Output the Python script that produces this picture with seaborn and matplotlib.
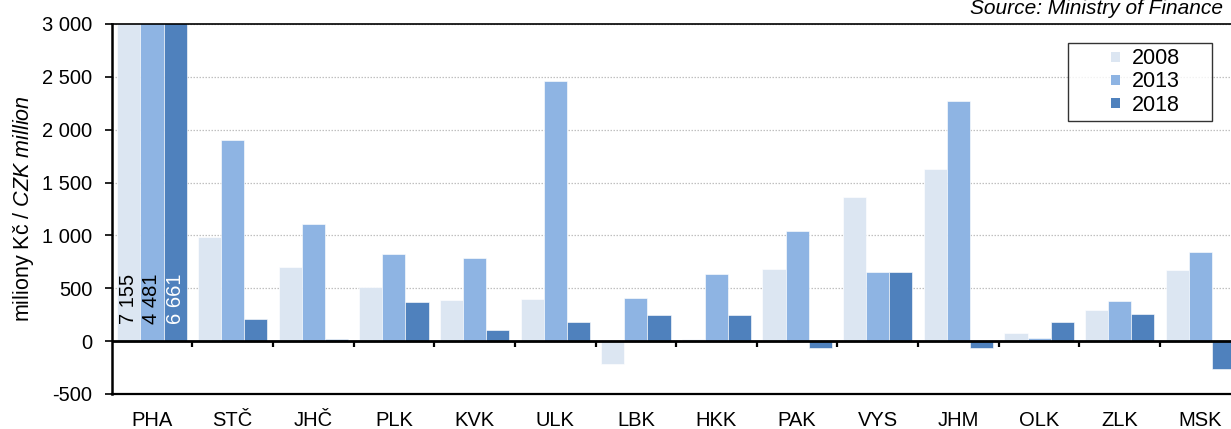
import matplotlib
matplotlib.use("Agg")
import matplotlib.pyplot as plt
import numpy as np
import pandas as pd
import seaborn as sns
from matplotlib.patches import Rectangle
from matplotlib.legend_handler import HandlerPatch
from matplotlib.ticker import FuncFormatter

regions = ["PHA", "STČ", "JHČ", "PLK", "KVK", "ULK", "LBK",
           "HKK", "PAK", "VYS", "JHM", "OLK", "ZLK", "MSK"]
years = ["2008", "2013", "2018"]
v2008 = [7155, 982, 701, 511, 386, 398, -220, 20, 685, 1361, 1632, 79, 294, 672]
v2013 = [4481, 1900, 1105, 824, 783, 2456, 407, 631, 1045, 657, 2273, 32, 379, 843]
v2018 = [6661, 208, 22, 366, 107, 180, 246, 243, -65, 654, -62, 177, 253, -265]
colors = ["#dce6f2", "#8eb4e3", "#4f81bd"]

df = pd.DataFrame({
    "region": regions * 3,
    "year": np.repeat(years, len(regions)),
    "value": v2008 + v2013 + v2018,
})

sns.set_theme(style="white")
plt.rcParams["font.family"] = ["Liberation Sans", "DejaVu Sans"]
plt.rcParams["axes.unicode_minus"] = False
plt.rcParams["mathtext.fontset"] = "custom"
plt.rcParams["mathtext.it"] = "Liberation Sans:italic"
plt.rcParams["mathtext.rm"] = "Liberation Sans"
for key in ["text.color", "axes.labelcolor", "xtick.color", "ytick.color"]:
    plt.rcParams[key] = "black"
fs = 14.5
fs_big = 15.5

fig = plt.figure(figsize=(12.31, 4.29), dpi=100)
ax = fig.add_axes([0.0907, 0.0816, 0.9093, 0.8625])

sns.barplot(data=df, x="region", y="value", hue="year", palette=colors,
            width=0.86, saturation=1, ax=ax,
            edgecolor=(1, 1, 1, 0.7), linewidth=0.6)

ax.set_ylim(-500, 3000)
ax.set_xlim(-0.5, 13.38)
ax.set_yticks(np.arange(-500, 3001, 500))
ax.yaxis.set_major_formatter(FuncFormatter(lambda v, p: f"{v:,.0f}".replace(",", " ")))
ax.tick_params(axis="y", left=True, length=5, width=1.2, labelsize=fs, pad=9)
ax.tick_params(axis="x", bottom=False, length=0, labelsize=fs, pad=12)
ax.set_xlabel("")
ax.set_ylabel(r"miliony Kč / $\mathit{CZK\ million}$", fontsize=fs_big, labelpad=4)

ax.yaxis.grid(True, linestyle=(0, (1.2, 1.2)), color="#c0c0c0", linewidth=0.9)
ax.set_axisbelow(True)
ax.axhline(0, color="black", linewidth=2, zorder=5)

for side in ["left", "top", "bottom"]:
    ax.spines[side].set_visible(True)
    ax.spines[side].set_color("black")
ax.spines["left"].set_linewidth(1.8)
ax.spines["bottom"].set_linewidth(1.6)
ax.spines["top"].set_linewidth(1.2)
ax.spines["right"].set_visible(False)

# category separator ticks on the zero line
sec = ax.secondary_xaxis(500 / 3500)
sec.set_xticks(np.arange(0.5, len(regions) - 1, 1))
sec.tick_params(axis="x", direction="out", length=4, width=1.6, labelbottom=False, color="black")
sec.spines["bottom"].set_visible(False)

# value labels for clipped PHA bars
label_colors = ["black", "black", "white"]
for cont, lc in zip(ax.containers, label_colors):
    bar = cont[0]
    val = bar.get_height()
    ax.text(bar.get_x() + bar.get_width() / 2, 160, f"{val:,.0f}".replace(",", " "),
            rotation=90, ha="center", va="bottom", fontsize=fs, color=lc, zorder=6)


def small_square(legend, orig_handle, xdescent, ydescent, width, height, fontsize):
    s = 0.45 * fontsize
    return Rectangle((-xdescent + width - s, -ydescent + (height - s) / 2), s, s)


handles, labels = ax.get_legend_handles_labels()
leg = ax.legend(handles, labels, title=None, loc="upper left",
                bbox_to_anchor=(0.854, 0.741, 0.129, 0.208), mode="expand",
                frameon=True, fancybox=False, edgecolor="black", fontsize=fs_big,
                handlelength=2.2, handleheight=0.7, handletextpad=0.55,
                borderpad=0.25, labelspacing=0.1, borderaxespad=0,
                handler_map={Rectangle: HandlerPatch(patch_func=small_square)})
leg.get_frame().set_linewidth(1.0)
for h in leg.legend_handles:
    h.set_edgecolor("none")

fig.text(0.9935, 1 - 14 / 429, "Source: Ministry of Finance", ha="right", va="baseline",
         fontsize=15, style="italic")

fig.savefig("out.png", dpi=100)
